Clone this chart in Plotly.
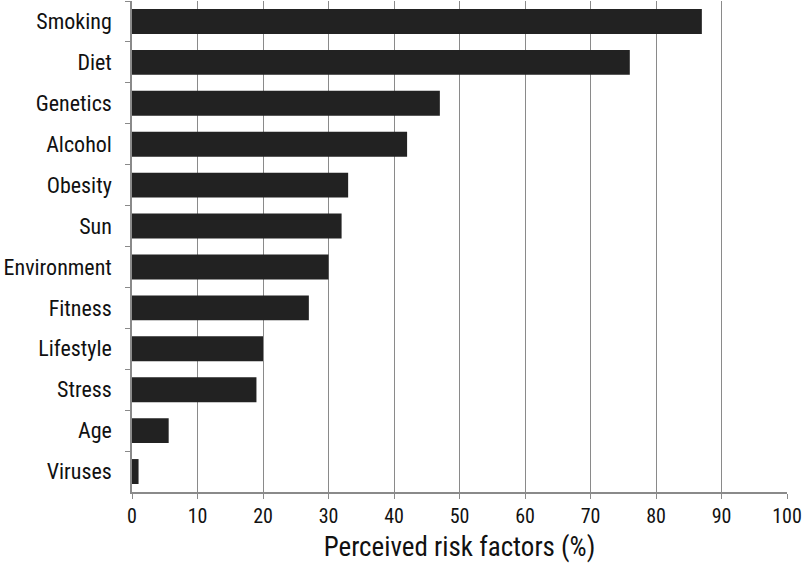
import plotly.graph_objects as go

categories = ["Smoking", "Diet", "Genetics", "Alcohol", "Obesity", "Sun",
              "Environment", "Fitness", "Lifestyle", "Stress", "Age", "Viruses"]
values = [87, 76, 47, 42, 33, 32, 30, 27, 20, 19, 5.6, 1]
x_ticks = list(range(0, 101, 10))

FONT = "Liberation Sans Narrow, Roboto Condensed, Arial Narrow, sans-serif"

fig = go.Figure(go.Bar(
    x=values, y=categories, orientation="h",
    marker=dict(color="#222222", line=dict(width=0)),
    width=0.61,
))

fig.update_layout(
    width=805, height=567,
    margin=dict(l=132, r=18, t=1, b=75),
    plot_bgcolor="white", paper_bgcolor="white",
    font=dict(family=FONT, size=20, color="#111111"),
    showlegend=False,
)
fig.update_xaxes(
    range=[0, 100], tickvals=x_ticks, ticktext=[str(v) for v in x_ticks],
    showgrid=True, gridcolor="#8a8a8a", gridwidth=1.2,
    showline=True, linecolor="#8a8a8a", linewidth=1.5,
    ticks="outside", ticklen=5, tickcolor="#8a8a8a",
    zeroline=False, automargin=False,
    tickfont=dict(size=20),
    title=dict(text="Perceived risk factors (%)", font=dict(size=27, family=FONT), standoff=10),
)
fig.update_yaxes(
    categoryorder="array", categoryarray=categories, autorange="reversed",
    showgrid=False, showline=True, linecolor="#8a8a8a", linewidth=1.5,
    ticks="outside", ticklen=5, tickcolor="#8a8a8a", tickson="boundaries",
    ticklabelstandoff=14, automargin=False,
    tickfont=dict(size=22),
)

fig.write_html("out.html", config={"displayModeBar": False},
               post_script="document.body.style.margin='0';")
